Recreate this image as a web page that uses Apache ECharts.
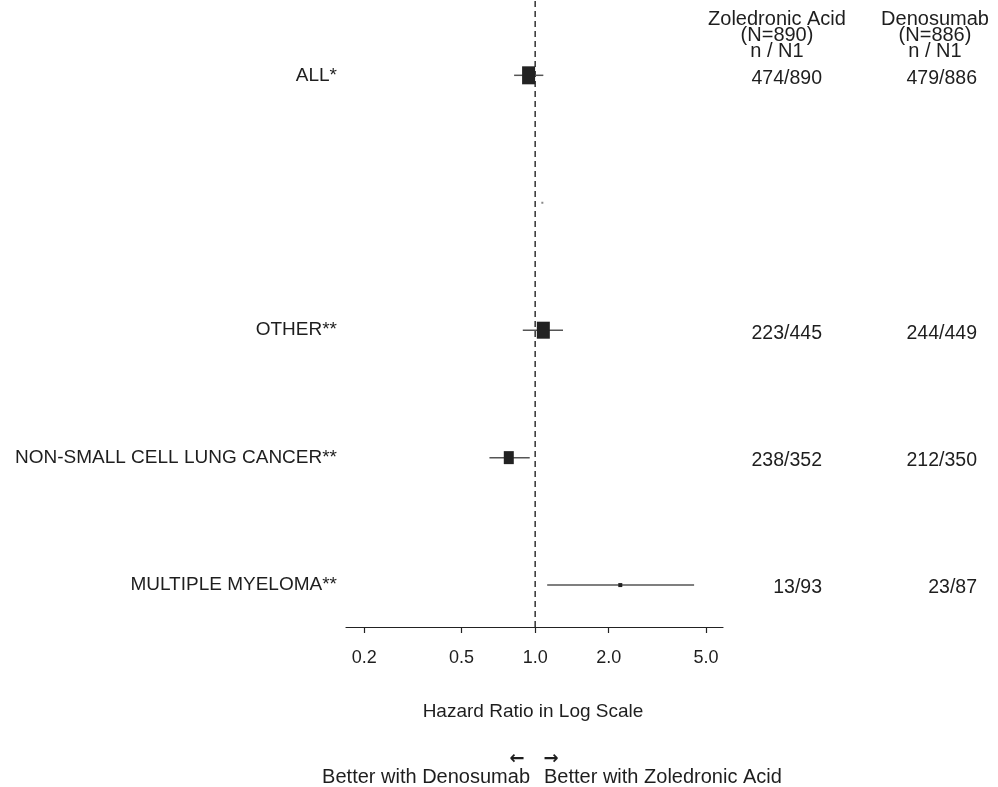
<!DOCTYPE html>
<html>
<head>
<meta charset="utf-8">
<script src="https://cdn.jsdelivr.net/npm/echarts@6/dist/echarts.min.js"></script>
<style>
html,body{margin:0;padding:0;background:#fff;}
#chart{width:998px;height:787px;}
</style>
</head>
<body>
<div id="chart"></div>
<script>
// ---- data ----
const rowLabels = ['ALL*', '', 'OTHER**', 'NON-SMALL CELL LUNG CANCER**', 'MULTIPLE MYELOMA**'];
const rowPos = [5, 4, 3, 2, 1];
const hazardRatio = [0.94, 1.07, 1.08, 0.78, 2.23];
const ciLower = [0.82, null, 0.89, 0.65, 1.12];
const ciUpper = [1.08, null, 1.30, 0.95, 4.47];
const zolEvents = [474, null, 223, 238, 13];
const zolTotal = [890, null, 445, 352, 93];
const denEvents = [479, null, 244, 212, 23];
const denTotal = [886, null, 449, 350, 87];
const tickValues = [0.2, 0.5, 1.0, 2.0, 5.0];

// ---- style ----
const boxSizes = [[13, 18], [2, 2], [13, 17], [10, 13], [4, 4]];
const FONT = '"Liberation Sans", Arial, "DejaVu Sans", sans-serif';
const TXT = '#1e1e1e';

const log10 = v => Math.log10(v);
const chart = echarts.init(document.getElementById('chart'), null, {renderer: 'canvas'});

const forestData = rowPos.map((y, i) => [
  y, log10(hazardRatio[i]),
  ciLower[i] == null ? NaN : log10(ciLower[i]),
  ciUpper[i] == null ? NaN : log10(ciUpper[i]), i
]);

const yMin = 0.671, yMax = 5.591;
const gridTop = 0, gridHeight = 627;

const colData = [];
rowPos.forEach((y, i) => {
  if (zolEvents[i] != null) {
    colData.push({value: [822, y], label: {formatter: zolEvents[i] + '/' + zolTotal[i]}});
    colData.push({value: [977, y], label: {formatter: denEvents[i] + '/' + denTotal[i]}});
  }
});

function txt(x, y, s, size, align) {
  return {type: 'text', x: x, y: y, silent: true,
    style: {text: s, font: size + 'px ' + FONT, fill: TXT, align: align || 'center', verticalAlign: 'middle'}};
}

const option = {
  animation: false,
  backgroundColor: '#fff',
  grid: [
    {left: 346, right: 275, top: gridTop, height: gridHeight},
    {left: 0, right: 0, top: gridTop, height: gridHeight}
  ],
  xAxis: [
    {
      type: 'value', gridIndex: 0,
      min: -0.774, max: 0.7686,
      splitLine: {show: false},
      axisLine: {show: true, onZero: false, lineStyle: {color: '#222', width: 1.2}},
      axisTick: {show: true, inside: false, length: 6, lineStyle: {color: '#222', width: 1.2},
        customValues: tickValues.map(log10)},
      axisLabel: {
        customValues: tickValues.map(log10),
        formatter: v => Math.pow(10, v).toFixed(1),
        fontSize: 18, fontFamily: FONT, color: TXT, margin: 22
      }
    },
    {type: 'value', gridIndex: 1, min: 0, max: 998, show: false}
  ],
  yAxis: [
    {
      type: 'value', gridIndex: 0, min: yMin, max: yMax,
      splitLine: {show: false},
      axisLine: {show: false}, axisTick: {show: false},
      axisLabel: {
        customValues: rowPos.filter((p, i) => rowLabels[i] !== ''),
        formatter: v => rowLabels[rowPos.indexOf(Math.round(v))],
        fontSize: 19, fontFamily: FONT, color: TXT, margin: 9,
        padding: [6, 0, 0, 0]
      }
    },
    {type: 'value', gridIndex: 1, min: yMin, max: yMax, show: false}
  ],
  series: [
    {
      type: 'line', xAxisIndex: 0, yAxisIndex: 0,
      data: [[0, yMin], [0, yMax]],
      symbol: 'none',
      lineStyle: {color: '#222', width: 1.4, type: [6, 4]},
      z: 1
    },
    {
      type: 'custom', xAxisIndex: 0, yAxisIndex: 0,
      encode: {x: [1, 2, 3], y: 0},
      data: forestData,
      z: 3,
      renderItem: function (params, api) {
        const y = api.value(0), hr = api.value(1), lo = api.value(2), hi = api.value(3);
        const idx = api.value(4);
        const c = api.coord([hr, y]);
        const children = [];
        if (!isNaN(lo) && !isNaN(hi)) {
          const a = api.coord([lo, y]), b = api.coord([hi, y]);
          children.push({type: 'line', shape: {x1: a[0], y1: a[1], x2: b[0], y2: b[1]},
            style: {stroke: '#555', lineWidth: 1.5}});
        }
        const s = boxSizes[idx];
        children.push({type: 'rect', shape: {x: c[0] - s[0] / 2, y: c[1] - s[1] / 2, width: s[0], height: s[1]},
          style: {fill: idx === 1 ? '#888' : '#222'}});
        return {type: 'group', children: children};
      }
    },
    {
      type: 'scatter', xAxisIndex: 1, yAxisIndex: 1,
      symbolSize: 0,
      itemStyle: {opacity: 1},
      data: colData,
      label: {show: true, position: 'left', distance: 0, offset: [0, 3],
        fontSize: 19.5, fontFamily: FONT, color: TXT, textBorderWidth: 0}
    }
  ],
  graphic: [
    txt(777, 19, 'Zoledronic Acid', 20),
    txt(777, 35, '(N=890)', 20),
    txt(777, 51, 'n / N1', 20),
    txt(935, 19, 'Denosumab', 20),
    txt(935, 35, '(N=886)', 20),
    txt(935, 51, 'n / N1', 20),
    txt(533, 712, 'Hazard Ratio in Log Scale', 19),
    {type: 'text', x: 517, y: 759, style: {text: '\u2190', font: 'bold 18px "DejaVu Sans", sans-serif', fill: TXT, align: 'center', verticalAlign: 'middle'}},
    {type: 'text', x: 551, y: 759, style: {text: '\u2192', font: 'bold 18px "DejaVu Sans", sans-serif', fill: TXT, align: 'center', verticalAlign: 'middle'}},
    txt(530, 777, 'Better with Denosumab', 20, 'right'),
    txt(544, 777, 'Better with Zoledronic Acid', 20, 'left')
  ]
};
chart.setOption(option);
</script>
</body>
</html>
